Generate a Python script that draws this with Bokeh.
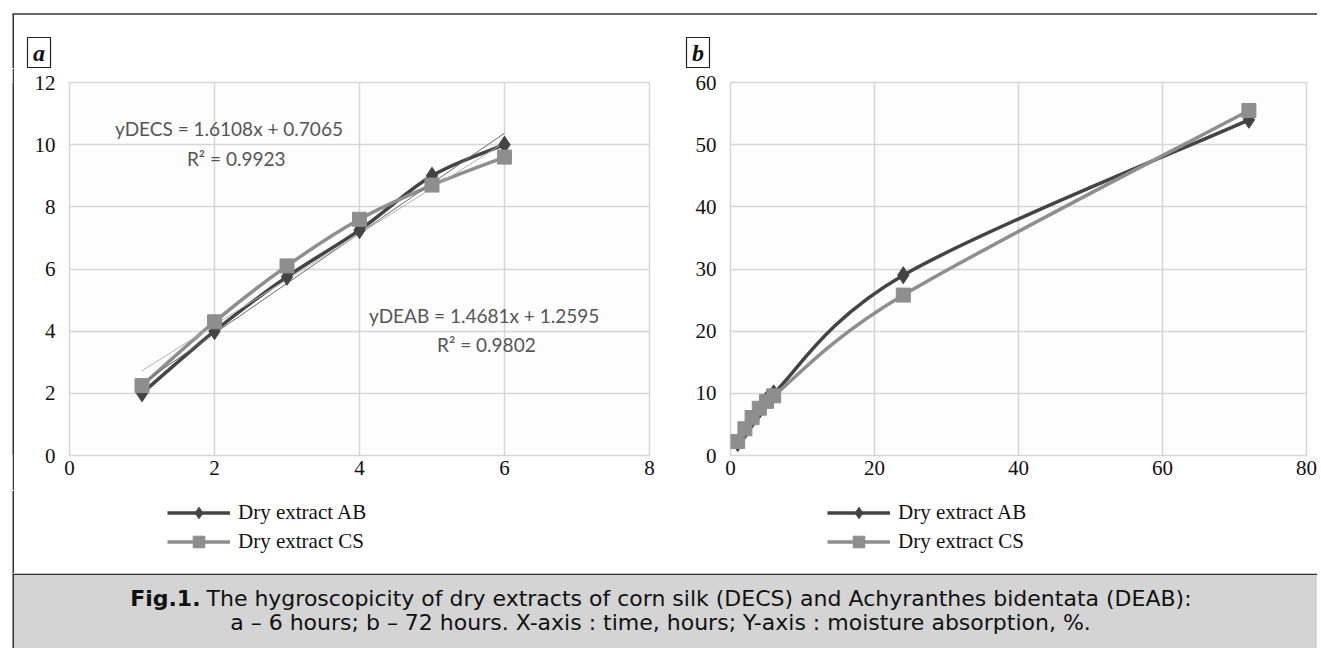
import numpy as np
from bokeh.plotting import figure
from bokeh.models import Legend, LegendItem, Label, FixedTicker, Range1d
from bokeh.layouts import column, row
from bokeh.embed import file_html
from bokeh.resources import INLINE
from bokeh.core.properties import value

# ---------------- data ----------------
hours_a = [1, 2, 3, 4, 5, 6]
ab_a = [2.0, 4.0, 5.75, 7.25, 9.0, 10.0]
cs_a = [2.25, 4.3, 6.1, 7.6, 8.7, 9.6]

hours_b = [1, 2, 3, 4, 5, 6, 24, 72]
ab_b = [2.0, 4.0, 5.75, 7.25, 9.0, 10.0, 29.0, 54.0]
cs_b = [2.25, 4.3, 6.1, 7.6, 8.7, 9.6, 25.8, 55.5]

xticks_a = [0, 2, 4, 6, 8]
yticks_a = [0, 2, 4, 6, 8, 10, 12]
xticks_b = [0, 20, 40, 60, 80]
yticks_b = [0, 10, 20, 30, 40, 50, 60]

series_names = ["Dry extract AB", "Dry extract CS"]
trend_decs = (1.6108, 0.7065)
trend_deab = (1.4681, 1.2595)
eq_decs = ["yDECS = 1.6108x + 0.7065", "R\u00b2 = 0.9923"]
eq_deab = ["yDEAB = 1.4681x + 1.2595", "R\u00b2 = 0.9802"]
panel_tags = ["a", "b"]
caption_bold = "Fig.1."
caption_1 = "The hygroscopicity of dry extracts of corn silk (DECS) and Achyranthes bidentata (DEAB):"
caption_2 = "a \u2013 6 hours; b \u2013 72 hours. X-axis : time, hours; Y-axis : moisture absorption, %."

AB_COLOR = "#444444"
CS_COLOR = "#8e8e8e"
BORDER = "#333333"
SERIF = "Liberation Serif"
CAP_FONT = "DejaVu Sans"

FULL_W = 1317
TAG_H = 68
PANEL_H = 422
LEG_H = 83
CAP_H = 75
STRIP_W = 14
PA_W = 646
PB_W = FULL_W - STRIP_W - PA_W


def blank(w, h, xr=None, yr=None):
    f = figure(width=w, height=h, x_range=Range1d(*(xr or (0, w))), y_range=Range1d(*(yr or (0, h))),
               output_backend="svg", toolbar_location=None, min_border=0,
               x_axis_type=None, y_axis_type=None)
    f.grid.visible = False
    f.outline_line_color = None
    return f


def smooth(xs, ys):
    """Bezier control points (Catmull-Rom style, like a spreadsheet smoothed line)."""
    n = len(xs)
    d = dict(x0=[], y0=[], x1=[], y1=[], cx0=[], cy0=[], cx1=[], cy1=[])
    for i in range(n - 1):
        i0 = i - 1 if i > 0 else i
        i3 = i + 2 if i + 2 < n else i + 1
        d["x0"].append(xs[i]); d["y0"].append(ys[i])
        d["x1"].append(xs[i + 1]); d["y1"].append(ys[i + 1])
        d["cx0"].append(xs[i] + (xs[i + 1] - xs[i0]) / 6.0)
        d["cy0"].append(ys[i] + (ys[i + 1] - ys[i0]) / 6.0)
        d["cx1"].append(xs[i + 1] - (xs[i3] - xs[i]) / 6.0)
        d["cy1"].append(ys[i + 1] - (ys[i3] - ys[i]) / 6.0)
    return d


def make_panel(width, bl, br, xr, yr, xt, yt):
    p = figure(width=width, height=PANEL_H, x_range=Range1d(*xr), y_range=Range1d(*yr),
               output_backend="svg", toolbar_location=None,
               min_border_left=bl, min_border_right=br, min_border_top=14, min_border_bottom=35)
    p.xaxis.ticker = FixedTicker(ticks=xt)
    p.yaxis.ticker = FixedTicker(ticks=yt)
    p.grid.grid_line_color = "#d6d6d6"
    p.grid.grid_line_width = 1.5
    p.outline_line_color = "#d6d6d6"
    p.outline_line_width = 1.5
    p.background_fill_color = "#fdfdfd"
    p.axis.axis_line_color = None
    p.axis.major_tick_line_color = None
    p.axis.minor_tick_line_color = None
    p.axis.major_tick_out = 0
    p.axis.major_tick_in = 0
    p.axis.major_label_text_font = SERIF
    p.axis.major_label_text_font_size = "21px"
    p.axis.major_label_text_color = "#111111"
    p.yaxis.major_label_standoff = 14
    p.xaxis.major_label_standoff = 5
    return p


def add_series(p, xs, abv, csv, trend=False):
    sa = smooth(xs, abv)
    sc = smooth(xs, csv)
    p.bezier(source=sa, x0="x0", y0="y0", x1="x1", y1="y1", cx0="cx0", cy0="cy0",
             cx1="cx1", cy1="cy1", line_color=AB_COLOR, line_width=3.5)
    p.bezier(source=sc, x0="x0", y0="y0", x1="x1", y1="y1", cx0="cx0", cy0="cy0",
             cx1="cx1", cy1="cy1", line_color=CS_COLOR, line_width=3.5)
    if trend:
        tx = [xs[0], xs[-1]]
        p.line(tx, [trend_decs[0] * v + trend_decs[1] for v in tx], line_color="#6a6a6a", line_width=1)
        p.line(tx, [trend_deab[0] * v + trend_deab[1] for v in tx], line_color="#b0b0b0", line_width=1)
    p.scatter(xs, abv, marker="diamond", size=17, fill_color=AB_COLOR, line_color=AB_COLOR)
    p.scatter(xs, csv, marker="square", size=14, fill_color=CS_COLOR, line_color=CS_COLOR)


def legend_fig(width, xs, abv, csv, xloc):
    # legend strip below a panel; its sample renderers sit outside the visible range
    f = blank(width, LEG_H, xr=(-1000, -999), yr=(-1000, -999))
    la = f.line(xs[:1], abv[:1], line_color=AB_COLOR, line_width=3.5)
    ma = f.scatter(xs[:1], abv[:1], marker="diamond", size=17, fill_color=AB_COLOR, line_color=AB_COLOR)
    lc = f.line(xs[:1], csv[:1], line_color=CS_COLOR, line_width=3.5)
    mc = f.scatter(xs[:1], csv[:1], marker="square", size=14, fill_color=CS_COLOR, line_color=CS_COLOR)
    leg = Legend(items=[LegendItem(label=series_names[0], renderers=[la, ma]),
                        LegendItem(label=series_names[1], renderers=[lc, mc])],
                 location=(xloc, 17), orientation="vertical")
    leg.border_line_color = None
    leg.background_fill_alpha = 0
    leg.label_text_font = SERIF
    leg.label_text_font_size = "21px"
    leg.label_text_color = "#111111"
    leg.glyph_width = 63
    leg.glyph_height = 29
    leg.label_height = 29
    leg.spacing = 0
    leg.padding = 0
    leg.margin = 0
    leg.label_standoff = 8
    f.add_layout(leg)
    return f


def solid_strip(w, h, color):
    f = blank(w, h)
    f.background_fill_color = color
    f.border_fill_color = color
    return f


# ---------------- top strip with panel tags ----------------
tag = blank(FULL_W, TAG_H)
tag.segment(x0=[12], y0=[TAG_H - 13.5], x1=[FULL_W], y1=[TAG_H - 13.5], line_color=BORDER, line_width=1.5)
tag.segment(x0=[12.75], y0=[0], x1=[12.75], y1=[TAG_H - 13.5], line_color=BORDER, line_width=1.5)
for txt, (l, r) in zip(panel_tags, [(27, 50), (686, 709)]):
    tag.quad(left=[l], right=[r], top=[TAG_H - 37], bottom=[TAG_H - 67], fill_color="white",
             line_color="#222222", line_width=1.2)
    tag.add_layout(Label(x=(l + r) / 2, y=TAG_H - 52, text=txt, text_align="center", text_baseline="middle",
                         text_font=SERIF, text_font_style="bold italic", text_font_size="24px",
                         text_color="#111111"))

# left border beside the panels: white spacer + thin dark strip
spacer = solid_strip(12, PANEL_H, "white")
dark = solid_strip(STRIP_W - 12, PANEL_H, BORDER)

# ---------------- panel a ----------------
pa = make_panel(PA_W, 55, 11, (0, 8), (0, 12), xticks_a, yticks_a)
add_series(pa, hours_a, ab_a, cs_a, trend=True)
for txt, (x, y) in zip(eq_decs + eq_deab, [(2.2, 10.52), (2.3, 9.55), (5.72, 4.5), (5.75, 3.56)]):
    pa.add_layout(Label(x=x, y=y, text=txt, text_align="center", text_baseline="middle",
                        text_font="Lato", text_font_size="19px", text_color="#555555"))

# ---------------- panel b ----------------
pb = make_panel(PB_W, 70, PB_W - 70 - 576, (0, 80), (0, 60), xticks_b, yticks_b)
add_series(pb, hours_b, ab_b, cs_b)

# ---------------- legends ----------------
lg_border = blank(STRIP_W, LEG_H)
lg_border.segment(x0=[12.75], y0=[0], x1=[12.75], y1=[LEG_H], line_color=BORDER, line_width=1.5)
lga = legend_fig(PA_W, hours_a, ab_a, cs_a, 153)
lgb = legend_fig(PB_W, hours_b, ab_b, cs_b, 167)

# ---------------- caption ----------------
pc = blank(FULL_W, CAP_H)
pc.background_fill_color = "white"
pc.quad(left=[12.75], right=[FULL_W], bottom=[0], top=[CAP_H], fill_color="#d4d4d4", line_color=None)
pc.segment(x0=[12], y0=[CAP_H - 0.75], x1=[FULL_W], y1=[CAP_H - 0.75], line_color=BORDER, line_width=1.5)
pc.segment(x0=[12.75], y0=[0], x1=[12.75], y1=[CAP_H], line_color=BORDER, line_width=1.5)
pc.add_layout(Label(x=200, y=CAP_H - 25, text=caption_bold, text_align="right", text_baseline="middle",
                    text_font=CAP_FONT, text_font_style="bold", text_font_size="22px", text_color="#111111"))
pc.add_layout(Label(x=206, y=CAP_H - 25, text=caption_1, text_align="left", text_baseline="middle",
                    text_font=CAP_FONT, text_font_size="22px", text_color="#111111"))
pc.add_layout(Label(x=660, y=CAP_H - 49, text=caption_2, text_align="center", text_baseline="middle",
                    text_font=CAP_FONT, text_font_size="22px", text_color="#111111"))

layout = column(tag,
                row(spacer, dark, pa, pb, spacing=0),
                row(lg_border, lga, lgb, spacing=0),
                pc, spacing=0)
open("out.html", "w").write(file_html(layout, INLINE))
